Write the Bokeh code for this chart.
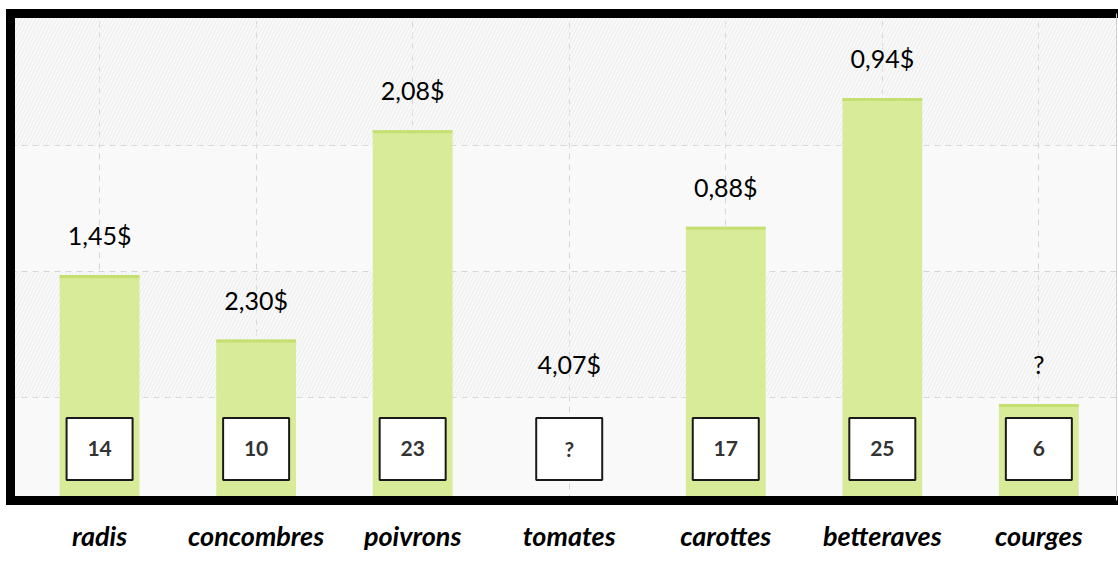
from bokeh.plotting import figure
from bokeh.models import Range1d, FixedTicker, LinearAxis, ColumnDataSource
from bokeh.core.properties import value
from bokeh.embed import file_html
from bokeh.resources import INLINE

# ---- data ----
categories = ["radis", "concombres", "poivrons", "tomates", "carottes", "betteraves", "courges"]
quantities = [14, 10, 23, None, 17, 25, 6]
box_labels = ["14", "10", "23", "?", "17", "25", "6"]
prices = ["1,45$", "2,30$", "2,08$", "4,07$", "0,88$", "0,94$", "?"]
price_label_level = [14, 10, 23, 6, 17, 25, 6]
grid_levels = [6.4, 14.2, 22.05]

xs = list(range(len(categories)))

# ---- styles / layout constants ----
BAR_COLOR = "#d8eb99"
STRIPE_COLOR = "#c6df72"
FONT = "Lato"
BOX_LEVEL = 3.2
STRIPE_DEPTH = 0.19
Y_TOP = 30.25

p = figure(width=1118, height=563, output_backend="svg", toolbar_location=None,
           x_range=Range1d(-0.569, 6.496), y_range=Range1d(0, Y_TOP),
           min_border_left=10, min_border_right=2, min_border_top=13, min_border_bottom=63)
p.background_fill_color = "#f9f9f9"
p.border_fill_color = "white"
p.outline_line_color = None

# hatched background bands (between alternate gridlines)
band_bottoms = [grid_levels[0], grid_levels[2]]
band_tops = [grid_levels[1], Y_TOP]
p.quad(left=-1, right=7, bottom=band_bottoms, top=band_tops,
       fill_color=None, line_color=None,
       hatch_pattern="/", hatch_color="#ebebeb", hatch_scale=7, hatch_weight=1)

# grids
p.xgrid.ticker = FixedTicker(ticks=xs)
p.ygrid.ticker = FixedTicker(ticks=grid_levels)
for g in (p.xgrid, p.ygrid):
    g.grid_line_color = "#d6d6d6"
    g.grid_line_dash = "6 5"
    g.grid_line_width = 1

# bars
bx = [x for x, q in zip(xs, quantities) if q is not None]
bq = [q for q in quantities if q is not None]
src = ColumnDataSource(dict(x=bx, top=bq, stripe_bottom=[q - STRIPE_DEPTH for q in bq]))
p.vbar(x="x", top="top", bottom=0, width=0.51, source=src,
       fill_color=BAR_COLOR, line_color=None)
p.vbar(x="x", top="top", bottom="stripe_bottom", width=0.51, source=src,
       fill_color=STRIPE_COLOR, line_color=None)

# price labels above bars
p.text(x=xs, y=price_label_level, text=prices, y_offset=-40,
       text_align="center", text_baseline="middle",
       text_font=value(FONT), text_font_size="25px", text_color="black")

# boxes with quantities
p.rect(x=xs, y=[BOX_LEVEL] * len(xs), width=66, height=62,
       width_units="screen", height_units="screen",
       fill_color="white", line_color="#1a1a1a", line_width=2)
p.text(x=xs, y=[BOX_LEVEL] * len(xs), text=box_labels,
       text_align="center", text_baseline="middle",
       text_font=value(FONT), text_font_style="bold",
       text_font_size="21px", text_color="#333333")

# axes: thick black frame lines
xa = p.xaxis[0]
xa.ticker = FixedTicker(ticks=xs)
xa.major_label_overrides = {x: c for x, c in zip(xs, categories)}
xa.major_tick_out = 0
xa.major_tick_in = 0
xa.minor_tick_out = 0
xa.minor_tick_in = 0
xa.major_label_standoff = 18
xa.major_label_text_font = FONT
xa.major_label_text_font_style = "bold italic"
xa.major_label_text_font_size = "27px"
xa.major_label_text_color = "black"
xa.axis_line_width = 9
xa.axis_line_color = "black"
xa.axis_line_cap = "square"

ya = p.yaxis[0]
ya.ticker = FixedTicker(ticks=[])
ya.major_tick_out = 0
ya.major_tick_in = 0
ya.minor_tick_out = 0
ya.minor_tick_in = 0
ya.major_label_standoff = 0
ya.axis_line_width = 9
ya.axis_line_color = "black"
ya.axis_line_cap = "square"

top_axis = LinearAxis(ticker=FixedTicker(ticks=[]), major_tick_out=0, major_tick_in=0,
                      minor_tick_out=0, minor_tick_in=0, major_label_standoff=0,
                      axis_line_width=9, axis_line_color="black", axis_line_cap="square")
p.add_layout(top_axis, "above")

right_axis = LinearAxis(ticker=FixedTicker(ticks=[]), major_tick_out=0, major_tick_in=0,
                        minor_tick_out=0, minor_tick_in=0, major_label_standoff=0,
                        axis_line_width=1, axis_line_color="#d0d0d0")
p.add_layout(right_axis, "right")

open("out.html", "w").write(file_html(p, INLINE))
